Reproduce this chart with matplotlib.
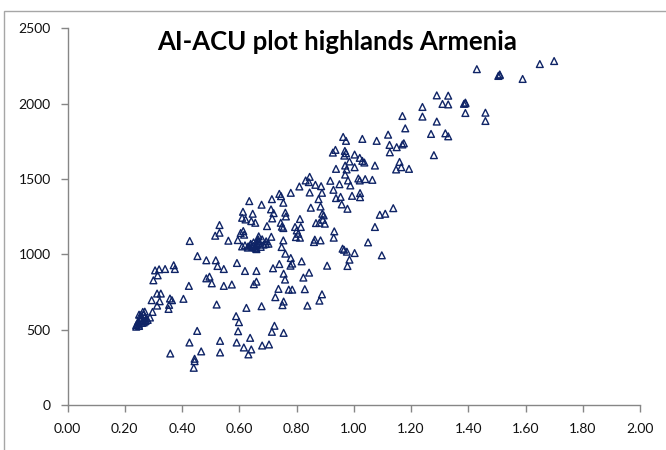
import matplotlib
matplotlib.use("Agg")
import matplotlib.pyplot as plt
from matplotlib.patches import Rectangle

# AI (aridity index) and ACU values per plot
ai = [
    1.43, 1.51, 1.505, 1.51, 1.59, 1.65, 1.70,
    1.29, 1.33, 1.31, 1.33, 1.39, 1.385, 1.39, 1.39, 1.46, 1.46,
    1.24, 1.24, 1.17, 1.29, 1.18, 1.27, 1.32, 1.33, 1.28,
    1.12, 1.08, 1.03, 1.125, 1.126, 1.15, 1.17, 1.175, 1.16, 1.166, 1.148, 1.193,
    1.074, 1.065, 1.04, 1.021, 1.016, 1.037, 1.03, 1.021, 1.003, 0.985,
    0.963, 0.973, 0.927, 0.936, 0.969, 0.973, 0.967, 0.970, 0.975, 0.938, 0.970,
    0.98, 0.988, 1.003, 0.950, 0.918, 0.929, 0.938, 0.954, 0.994, 1.022, 1.022,
    0.958, 0.978, 0.932, 0.930, 0.961, 0.966, 0.976, 1.003, 0.985, 0.978,
    1.050, 1.074, 1.091, 1.110, 1.138, 1.098, 0.907,
    0.889, 0.886, 0.866, 0.877, 0.843, 0.846, 0.832, 0.846, 0.810, 0.780,
    0.850, 0.884, 0.890, 0.895, 0.880, 0.892, 0.899, 0.868, 0.812, 0.815,
    0.795, 0.798, 0.806, 0.812, 0.801, 0.864, 0.861, 0.884, 0.818, 0.824,
    0.844, 0.829, 0.838, 0.880, 0.889,
    0.761, 0.763, 0.740, 0.746, 0.754, 0.714, 0.711, 0.720, 0.715, 0.678,
    0.647, 0.635, 0.613, 0.622, 0.610, 0.642, 0.656, 0.745, 0.749, 0.754,
    0.697, 0.712, 0.694, 0.702, 0.754, 0.748, 0.761, 0.780, 0.785, 0.779,
    0.755, 0.760, 0.740, 0.718, 0.737, 0.773, 0.785, 0.726, 0.755, 0.751,
    0.723, 0.714, 0.755, 0.704, 0.680, 0.638, 0.642, 0.632, 0.616, 0.591,
    0.596, 0.599, 0.589, 0.678, 0.625, 0.660, 0.651, 0.660, 0.620, 0.592,
    0.574, 0.546, 0.546, 0.524, 0.518, 0.485, 0.496, 0.485, 0.504, 0.454,
    0.521, 0.427, 0.424, 0.405, 0.426, 0.453, 0.444, 0.444, 0.441, 0.467,
    0.359, 0.533, 0.533,
    0.516, 0.531, 0.531, 0.562, 0.595, 0.605, 0.614, 0.617, 0.610, 0.631,
    0.641, 0.650, 0.657, 0.663, 0.666, 0.668, 0.659, 0.693,
    0.62, 0.63, 0.64, 0.645, 0.65, 0.655, 0.66, 0.665, 0.67, 0.675, 0.68, 0.685, 0.66,
    0.300, 0.306, 0.320, 0.315, 0.341, 0.371, 0.375, 0.294, 0.313, 0.326,
    0.322, 0.313, 0.297, 0.358, 0.365, 0.355, 0.353, 0.288, 0.263, 0.255,
    0.254, 0.246, 0.240, 0.249, 0.264, 0.273, 0.266,
    0.24, 0.245, 0.25, 0.255, 0.26, 0.265, 0.27, 0.275, 0.26, 0.27, 0.28, 0.25,
]
acu = [
    2230, 2190, 2185, 2195, 2165, 2264, 2284,
    2056, 2054, 1999, 1996, 2003, 2000, 2008, 1939, 1941, 1886,
    1979, 1915, 1919, 1882, 1837, 1800, 1804, 1784, 1659,
    1795, 1754, 1767, 1727, 1678, 1712, 1730, 1738, 1614, 1579, 1564, 1568,
    1590, 1495, 1500, 1491, 1504, 1610, 1621, 1641, 1663, 1617,
    1780, 1754, 1676, 1694, 1687, 1672, 1656, 1590, 1564, 1568, 1530,
    1491, 1458, 1579, 1466, 1489, 1429, 1374, 1382, 1389, 1407, 1380,
    1332, 1303, 1153, 1111, 1038, 1031, 1018, 1009, 965, 923,
    1080, 1182, 1263, 1270, 1307, 994, 925,
    1409, 1453, 1462, 1367, 1480, 1515, 1491, 1411, 1451, 1409,
    1310, 1318, 1270, 1259, 1210, 1230, 1204, 1208, 1235, 1182,
    1182, 1115, 1137, 1111, 1159, 1098, 1082, 1093, 954, 846,
    879, 769, 660, 693, 735,
    1277, 1252, 1402, 1387, 1343, 1367, 1299, 1274, 1239, 1330,
    1270, 1354, 1283, 1232, 1243, 1221, 1210, 1210, 1184, 1175,
    1188, 1117, 1087, 1071, 1093, 1049, 1005, 976, 939, 925,
    872, 833, 936, 908, 771, 766, 766, 716, 687, 663,
    526, 486, 479, 402, 395, 446, 369, 336, 382, 415,
    490, 550, 590, 656, 645, 819, 802, 890, 890, 943,
    800, 791, 903, 923, 961, 961, 852, 841, 808, 989,
    667, 1089, 791, 705, 415, 492, 307, 291, 247, 356,
    342, 426, 349,
    1124, 1195, 1144, 1091, 1095, 1142, 1155, 1131, 1053, 1053,
    1064, 1056, 1053, 1071, 1100, 1120, 1040, 1069,
    1060, 1045, 1070, 1050, 1080, 1045, 1060, 1090, 1075, 1050, 1100, 1065, 1035,
    828, 894, 901, 861, 903, 928, 903, 696, 740, 740,
    689, 660, 618, 707, 696, 665, 638, 581, 618, 596,
    574, 552, 530, 534, 563, 559, 548,
    520, 540, 525, 560, 580, 600, 620, 575, 545, 555, 565, 600,
]

x_ticks = [0.0, 0.2, 0.4, 0.6, 0.8, 1.0, 1.2, 1.4, 1.6, 1.8, 2.0]
y_ticks = [0, 500, 1000, 1500, 2000, 2500]
title = "AI-ACU plot highlands Armenia"

plt.rcParams["font.family"] = ["Lato", "DejaVu Sans"]

fig = plt.figure(figsize=(6.66, 4.5), dpi=100)
ax = fig.add_axes([67.5 / 666, 1 - 405 / 450, (640 - 67.5) / 666, (405 - 28.5) / 450])

# chart-area frame (only top and left edges fall inside the image)
fig.patches.append(Rectangle((3.5 / 666, -0.1), 2, 1 - 11 / 450 + 0.1,
                             transform=fig.transFigure, fill=False,
                             edgecolor="#A6A6A6", linewidth=1.0))

ax.scatter(ai, acu, marker="^", s=24, facecolors="none",
           edgecolors="#0F2466", linewidths=1.0, zorder=3, clip_on=False)

ax.set_xlim(0, 2.0)
ax.set_ylim(0, 2500)
ax.set_xticks(x_ticks)
ax.set_yticks(y_ticks)
ax.set_xticklabels([f"{v:.2f}" for v in x_ticks])
ax.set_yticklabels([str(v) for v in y_ticks])

for side in ("top", "right"):
    ax.spines[side].set_visible(False)
for side in ("left", "bottom"):
    ax.spines[side].set_color("#868686")
    ax.spines[side].set_linewidth(1.0)

ax.tick_params(axis="both", direction="out", length=5, width=1.0,
               color="#868686", labelsize=10, labelcolor="#111111")
ax.tick_params(axis="x", pad=8)
ax.tick_params(axis="y", pad=7)

fig.text(337 / 666, 1 - 42 / 450, title, ha="center", va="center",
         fontsize=18.5, fontweight="bold", color="#000000")

fig.savefig("out.png", dpi=100)
